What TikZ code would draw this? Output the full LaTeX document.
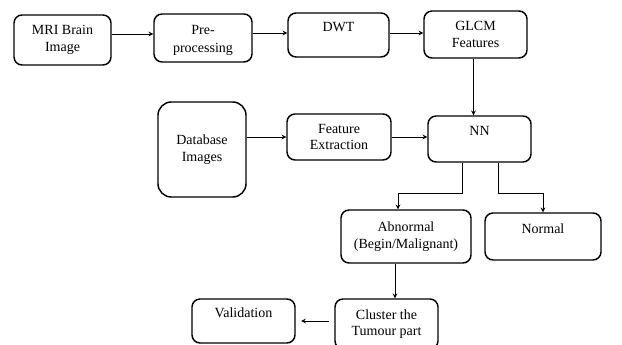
\documentclass[tikz,border=0pt]{standalone}
\usepackage{fontspec}
\setmainfont{Liberation Serif}
\usepackage{tikz}

\tikzset{
    box/.style 2 args={draw, line width=1.1pt, rounded corners=6pt, align=center,
        minimum width=#1*0.75pt, minimum height=#2*0.75pt, inner sep=0pt,
        font=\rmfamily\fontsize{10.5}{12.5}\selectfont},
}

\begin{document}
\begin{tikzpicture}[x=0.75pt, y=-0.75pt, line width=0.6pt, >=stealth]
    \useasboundingbox (0,0) rectangle (622,345);
    % Top row
    \node[box={97}{50}] (mri) at (62.5,40) {MRI Brain\\Image};
    \node[box={98}{48}] (pre) at (203,38) {\\[-2pt]Pre-\\[1.5pt]processing};
    \node[box={101}{44}] (dwt) at (338.5,35) {DWT\\\mbox{}};
    \node[box={103}{47}] (glcm) at (475.5,34.5) {GLCM\\Features};
    % Middle row
    \node[box={88}{95}, rounded corners=10pt] (db) at (202,149.5) {Database\\Images};
    \node[box={104}{46}] (fe) at (339,137) {Feature\\Extraction};
    \node[box={103}{46}] (nn) at (479.5,139) {NN\\\mbox{}};
    % Classes
    \node[box={130}{53}] (abn) at (406,236.5) {Abnormal\\(Begin/Malignant)};
    \node[box={116}{47}] (nor) at (543,236.5) {Normal\\\mbox{}};
    % Bottom row
    \node[box={103}{50}] (clu) at (386.5,324) {Cluster the\\Tumour part};
    \node[box={103}{44}] (val) at (243.5,321) {Validation\\\mbox{}};
    % Split points
    \coordinate (ja) at (398,193);
    \coordinate (jn) at (543,193);
    % Arrows
    \draw[->] (mri.east |- 0,34) -- (pre.west |- 0,34);
    \draw[->] (pre.east |- 0,33) -- (dwt.west |- 0,33);
    \draw[->] (dwt.east |- 0,33) -- (glcm.west |- 0,33);
    \draw[->] ([xshift=-1.5pt]glcm.south) -- ([xshift=-1.5pt]glcm.south |- nn.north);
    \draw[->] (db.east |- fe.west) -- (fe.west);
    \draw[->] (fe.east) -- (fe.east -| nn.west);
    \draw[->] ([xshift=-13pt]nn.south) |- (ja) -- (abn.north -| ja);
    \draw[->] ([xshift=14pt]nn.south) |- (jn) -- (nor.north);
    \draw[->] ([xshift=-8.25pt]abn.south) -- ([xshift=-8.25pt]abn.south |- clu.north);
    \draw[->] (clu.west |- val.east) ++(-4pt,0) -- ([xshift=4pt]val.east);
\end{tikzpicture}
\end{document}
